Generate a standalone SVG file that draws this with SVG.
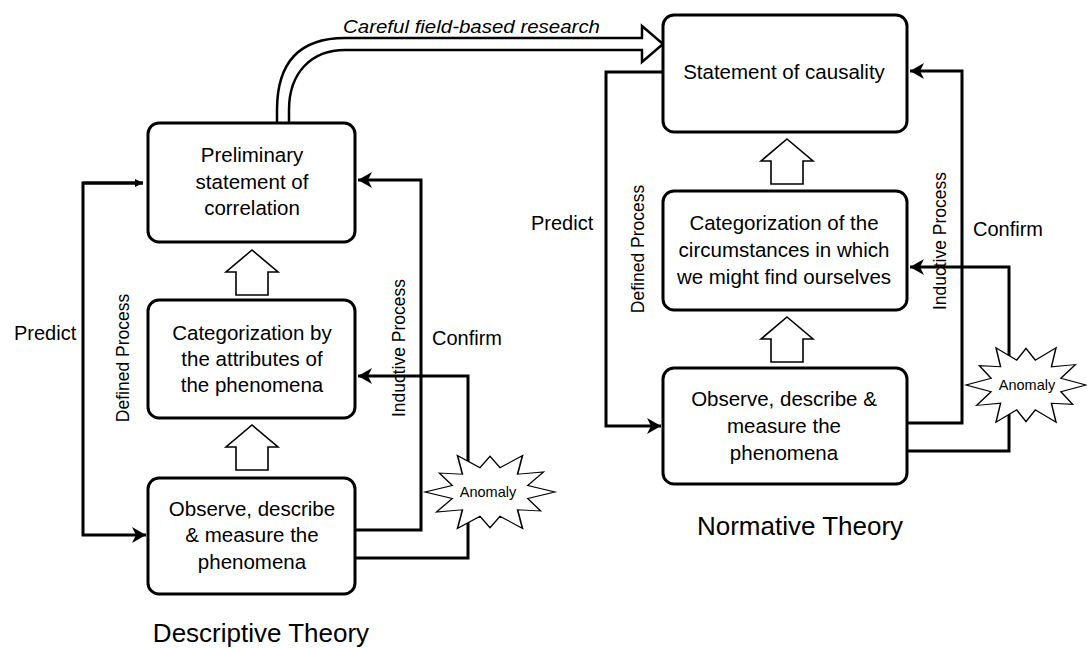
<svg xmlns="http://www.w3.org/2000/svg" width="1087" height="648" viewBox="0 0 1087 648">
<style>
text{font-family:"Liberation Sans",Arial,sans-serif;fill:#000}
.box{fill:#fff;stroke:#000;stroke-width:3}
.bt{font-size:20.5px;text-anchor:middle}
.lbl{font-size:20px}
.rot{font-size:17.5px;text-anchor:middle}
.title{font-size:26px;text-anchor:middle}
.conn{fill:none;stroke:#000;stroke-width:3;stroke-linejoin:miter}
.up{fill:#fff;stroke:#000;stroke-width:1.6}
.star{fill:#fff;stroke:#000;stroke-width:2.5;stroke-linejoin:miter}
.an{font-size:14.5px;text-anchor:middle}
</style>
<defs>
<marker id="ah" markerUnits="userSpaceOnUse" markerWidth="16" markerHeight="16" refX="14" refY="8" orient="auto"><path d="M0,0 L14,8 L0,16 L4,8 Z" fill="#000"/></marker>
<marker id="ahs" markerUnits="userSpaceOnUse" markerWidth="10" markerHeight="10" refX="8" refY="5" orient="auto"><path d="M0,1 L8,5 L0,9 Z" fill="#000"/></marker>
<polygon id="starShape" points="100,0 58,15.5 77.9,45 42.4,42.4 50,86.6 15.5,58 0,85 -15.5,58 -50,86.6 -42.4,42.4 -82.3,47.5 -58,15.5 -100,0 -58,-15.5 -77.9,-45 -42.4,-42.4 -50,-86.6 -15.5,-58 0,-85 15.5,-58 50,-86.6 42.4,-42.4 82.3,-47.5 58,-15.5"/>
<path id="upArrow" d="M0,0 L26,22 L16,22 L16,45 L-16,45 L-16,22 L-26,22 Z"/>
</defs>

<g id="connectors">
  <path id="research" d="M277,123 L277,110 C277,62 300,38 345,38 L642,38 L642,26 L663,44 L642,62 L642,50 L345,50 C312,50 289,72 289,110 L289,123" fill="#fff" stroke="#000" stroke-width="2.5"/>
  <text x="343" y="33" font-size="19" font-style="italic" textLength="257" lengthAdjust="spacingAndGlyphs">Careful field-based research</text>

  <path class="conn" d="M143,183 H83 V535 H146" marker-end="url(#ah)"/>
  <path class="conn" d="M83,183 H143" marker-end="url(#ahs)"/>
  <path class="conn" d="M356,530 H421 V180 H358" marker-end="url(#ah)"/>
  <path class="conn" d="M356,558 H468 V376 H358" marker-end="url(#ah)"/>

  <path class="conn" d="M663,72 H606 V426 H661" marker-end="url(#ah)"/>
  <path class="conn" d="M908,423 H962 V71 H910" marker-end="url(#ah)"/>
  <path class="conn" d="M908,451 H1009 V267 H910" marker-end="url(#ah)"/>

  <use href="#upArrow" class="up" transform="translate(252,250)"/>
  <use href="#upArrow" class="up" transform="translate(252,425)"/>
  <use href="#upArrow" class="up" transform="translate(787,139)"/>
  <use href="#upArrow" class="up" transform="translate(787,317)"/>
</g>

<g id="labels">
  <text class="lbl" x="14" y="340">Predict</text>
  <text class="lbl" x="432" y="345">Confirm</text>
  <text class="rot" transform="translate(129,358) rotate(-90)">Defined Process</text>
  <text class="rot" transform="translate(405,348) rotate(-90)">Inductive Process</text>
  <text class="lbl" x="531" y="230">Predict</text>
  <text class="lbl" x="973" y="236">Confirm</text>
  <text class="rot" transform="translate(644,249) rotate(-90)">Defined Process</text>
  <text class="rot" transform="translate(946,241) rotate(-90)">Inductive Process</text>
  <text class="title" x="261" y="642">Descriptive Theory</text>
  <text class="title" x="800" y="535">Normative Theory</text>
</g>

<g id="anomaly-left">
  <use href="#starShape" class="star" vector-effect="non-scaling-stroke" transform="translate(490,492) scale(0.65,0.42)"/>
  <text class="an" x="488" y="497">Anomaly</text>
</g>
<g id="anomaly-right">
  <use href="#starShape" class="star" vector-effect="non-scaling-stroke" transform="translate(1026,385) scale(0.6,0.43)"/>
  <text class="an" x="1027" y="390">Anomaly</text>
</g>

<g id="preliminary">
  <rect class="box" x="148" y="123" width="207" height="119" rx="11"/>
  <text class="bt" x="252" y="162">Preliminary</text>
  <text class="bt" x="252" y="189">statement of</text>
  <text class="bt" x="252" y="215">correlation</text>
</g>
<g id="categorization-attributes">
  <rect class="box" x="148" y="300" width="207" height="118" rx="11"/>
  <text class="bt" x="252" y="340">Categorization by</text>
  <text class="bt" x="252" y="366">the attributes of</text>
  <text class="bt" x="252" y="392">the phenomena</text>
</g>
<g id="observe-left">
  <rect class="box" x="148" y="478" width="207" height="116" rx="11"/>
  <text class="bt" x="252" y="516">Observe, describe</text>
  <text class="bt" x="252" y="542">&amp; measure the</text>
  <text class="bt" x="252" y="569">phenomena</text>
</g>
<g id="causality">
  <rect class="box" x="663" y="15" width="244" height="117" rx="11"/>
  <text class="bt" x="784" y="79">Statement of causality</text>
</g>
<g id="categorization-circumstances">
  <rect class="box" x="663" y="191" width="244" height="119" rx="11"/>
  <text class="bt" x="784" y="230">Categorization of the</text>
  <text class="bt" x="784" y="257">circumstances in which</text>
  <text class="bt" x="784" y="284">we might find ourselves</text>
</g>
<g id="observe-right">
  <rect class="box" x="663" y="368" width="244" height="116" rx="11"/>
  <text class="bt" x="784" y="406">Observe, describe &amp;</text>
  <text class="bt" x="784" y="433">measure the</text>
  <text class="bt" x="784" y="460">phenomena</text>
</g>
</svg>
